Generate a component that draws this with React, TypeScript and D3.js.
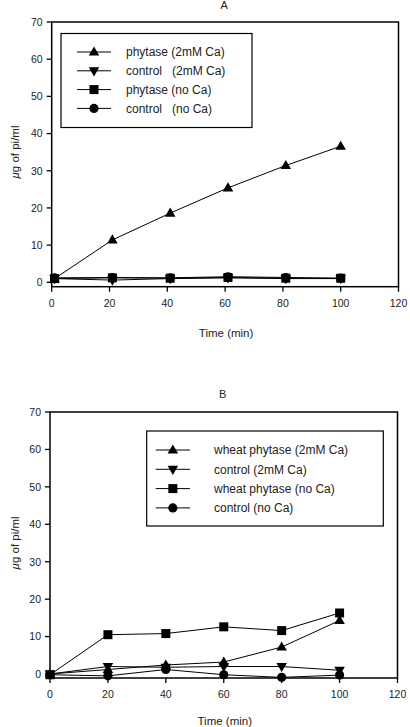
import React from "react";
import * as d3 from "d3";

// Time points (min)
const timeA = [1, 21, 41, 61, 81, 100];
const timeB = [0, 20, 40, 60, 80, 100];

// Panel A: µg of Pi/ml
const phytaseCaA = [1.0, 11.4, 18.6, 25.4, 31.4, 36.6];
const controlCaA = [1.0, 0.6, 1.0, 1.2, 1.0, 1.0];
const phytaseNoCaA = [1.0, 1.2, 1.1, 1.3, 1.1, 1.1];
const controlNoCaA = [1.2, 1.3, 1.2, 1.5, 1.3, 1.1];

// Panel B: µg of Pi/ml
const wheatCaB = [0.0, 1.2, 2.4, 3.2, 7.2, 14.3];
const controlCaB = [0.0, 2.0, 1.8, 2.0, 2.0, 1.0];
const wheatNoCaB = [-0.2, 10.5, 10.8, 12.6, 11.6, 16.3];
const controlNoCaB = [-0.2, -0.5, 1.2, -0.2, -0.9, -0.3];

const xTicks = [0, 20, 40, 60, 80, 100, 120];
const yTicks = [0, 10, 20, 30, 40, 50, 60, 70];

const legendA = ["phytase (2mM Ca)", "control   (2mM Ca)", "phytase (no Ca)", "control   (no Ca)"];
const legendB = ["wheat phytase (2mM Ca)", "control (2mM Ca)", "wheat phytase (no Ca)", "control (no Ca)"];

type Shape = "up" | "down" | "square" | "circle";
const shapes: Shape[] = ["up", "down", "square", "circle"];

const FONT = "'Liberation Sans', Arial, sans-serif";

function Marker({ shape, x, y }: { shape: Shape; x: number; y: number }) {
  if (shape === "circle") return <circle cx={x} cy={y} r={4.6} fill="#000" />;
  if (shape === "square") return <rect x={x - 4.5} y={y - 4.5} width={9} height={9} fill="#000" />;
  const sym = d3.symbol().type(d3.symbolTriangle).size(48)();
  return (
    <path
      d={sym as string}
      transform={`translate(${x},${y + (shape === "up" ? 0.5 : -0.5)}) rotate(${shape === "down" ? 180 : 0})`}
      fill="#000"
    />
  );
}

interface PanelProps {
  title: string;
  titleY: number;
  left: number;
  right: number;
  top: number;
  bottom: number;
  yMin: number;
  times: number[];
  series: number[][];
  labels: string[];
  legend: { x: number; y: number; w: number; h: number; rowY0: number; rowDy: number; lineX0: number; lineX1: number; textX: number };
  xLabelY: number;
}

function Panel(p: PanelProps) {
  const x = d3.scaleLinear().domain([0, 120]).range([p.left, p.right]);
  const y = d3.scaleLinear().domain([p.yMin, 70]).range([p.bottom, p.top]);
  const line = d3
    .line<[number, number]>()
    .x((d) => x(d[0]))
    .y((d) => y(d[1]));
  const midY = (y(0) + y(70)) / 2;
  const cx = (p.left + p.right) / 2;
  const L = p.legend;
  return (
    <g fontFamily={FONT} fill="#222">
      <text x={cx - 1} y={p.titleY} fontSize={11} textAnchor="middle">
        {p.title}
      </text>
      {/* data lines */}
      {p.series.map((s, i) => (
        <path
          key={"l" + i}
          d={line(p.times.map((t, j) => [t, s[j]] as [number, number])) as string}
          fill="none"
          stroke="#000"
          strokeWidth={1}
        />
      ))}
      {p.series.map((s, i) =>
        p.times.map((t, j) => <Marker key={`m${i}-${j}`} shape={shapes[i]} x={x(t)} y={y(s[j])} />)
      )}
      {/* frame */}
      <rect
        x={p.left}
        y={p.top}
        width={p.right - p.left}
        height={p.bottom - p.top}
        fill="none"
        stroke="#000"
        strokeWidth={1.5}
      />
      {/* y ticks */}
      {yTicks.map((v) => (
        <g key={"y" + v}>
          <line x1={p.left - 5} x2={p.left} y1={y(v)} y2={y(v)} stroke="#000" strokeWidth={1.3} />
          <text x={p.left - 9} y={y(v) + 3.8} fontSize={10.5} textAnchor="end">
            {v}
          </text>
        </g>
      ))}
      {/* x ticks */}
      {xTicks.map((v) => (
        <g key={"x" + v}>
          <line x1={x(v)} x2={x(v)} y1={p.bottom} y2={p.bottom + 5} stroke="#000" strokeWidth={1.3} />
          <text x={x(v)} y={p.bottom + 20} fontSize={10.5} textAnchor="middle">
            {v}
          </text>
        </g>
      ))}
      <text x={cx + 1} y={p.xLabelY} fontSize={11.5} textAnchor="middle">
        Time (min)
      </text>
      <text
        transform={`translate(19,${midY}) rotate(-90)`}
        fontSize={11.5}
        textAnchor="middle"
      >
        <tspan fontStyle="italic">µ</tspan>g of pi/ml
      </text>
      {/* legend */}
      <rect x={L.x} y={L.y} width={L.w} height={L.h} fill="#fff" stroke="#000" strokeWidth={1.2} />
      {p.labels.map((lab, i) => {
        const ry = L.rowY0 + i * L.rowDy;
        return (
          <g key={"lg" + i}>
            <line x1={L.lineX0} x2={L.lineX1} y1={ry} y2={ry} stroke="#000" strokeWidth={1} />
            <Marker shape={shapes[i]} x={(L.lineX0 + L.lineX1) / 2} y={ry} />
            <text x={L.textX} y={ry + 4.2} fontSize={12} style={{ whiteSpace: "pre" }}>
              {lab}
            </text>
          </g>
        );
      })}
    </g>
  );
}

export default function App() {
  return (
    <svg
      width={410}
      height={727}
      style={{ position: "absolute", left: 0, top: 0, background: "#fff" }}
    >
      <rect width={410} height={727} fill="#fff" />
      <Panel
        title="A"
        titleY={9}
        left={51.7}
        right={398.5}
        top={22}
        bottom={286.7}
        yMin={-1.18}
        times={timeA}
        series={[phytaseCaA, controlCaA, phytaseNoCaA, controlNoCaA]}
        labels={legendA}
        legend={{ x: 61, y: 33.5, w: 191, h: 94, rowY0: 52, rowDy: 18.8, lineX0: 77, lineX1: 111, textX: 126 }}
        xLabelY={337}
      />
      <Panel
        title="B"
        titleY={398}
        left={50}
        right={397.5}
        top={412}
        bottom={678}
        yMin={-1.07}
        times={timeB}
        series={[wheatCaB, controlCaB, wheatNoCaB, controlNoCaB]}
        labels={legendB}
        legend={{ x: 146.7, y: 431, w: 236.6, h: 95, rowY0: 450, rowDy: 19.3, lineX0: 155.7, lineX1: 190, textX: 214 }}
        xLabelY={724.5}
      />
    </svg>
  );
}
